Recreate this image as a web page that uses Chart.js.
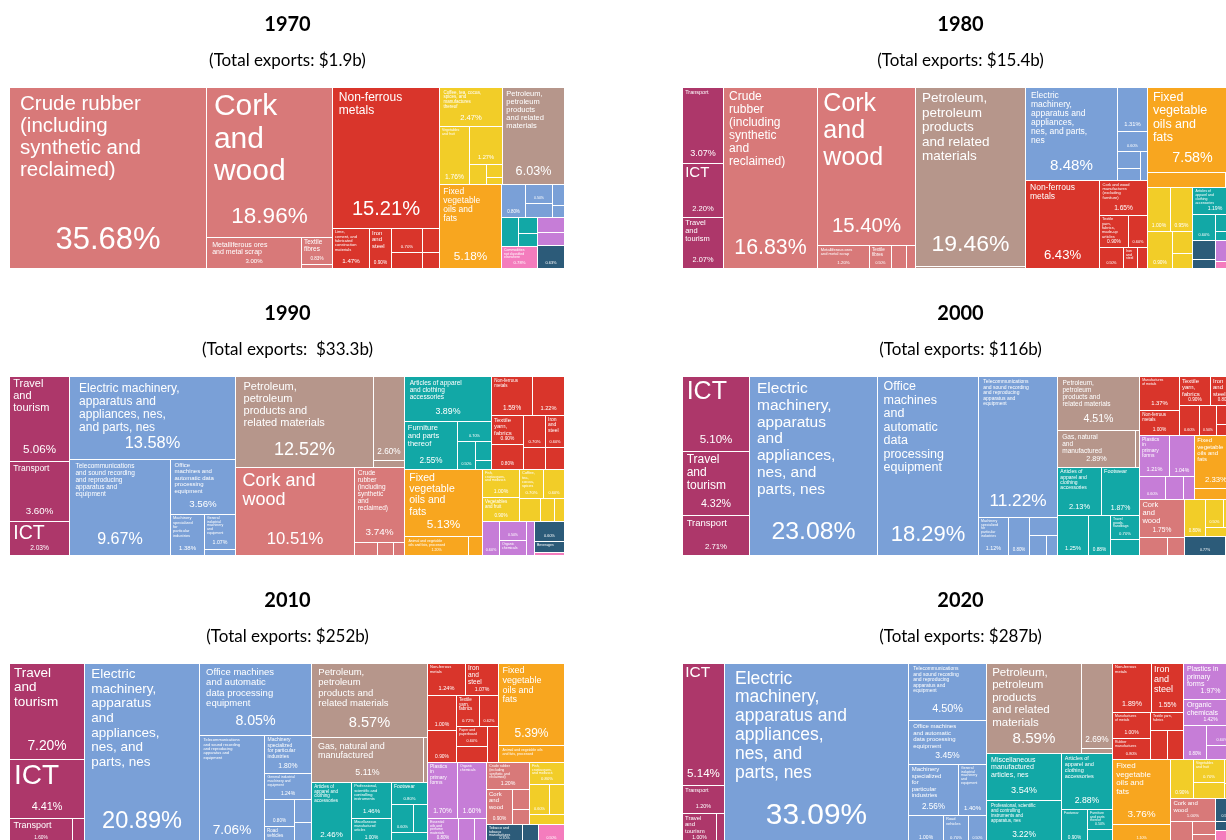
<!DOCTYPE html>
<html>
<head>
<meta charset="utf-8">
<script src="https://cdn.jsdelivr.net/npm/chart.js@4.4.1/dist/chart.umd.min.js"></script>
<style>
  html, body { margin: 0; padding: 0; background: #fff; width: 1226px; height: 840px; overflow: hidden; position: relative; }
  canvas { position: absolute; }
</style>
</head>
<body>
<canvas id="c1970" width="555" height="269" style="left:10px;top:0px"></canvas>
<canvas id="c1980" width="555" height="269" style="left:683px;top:0px"></canvas>
<canvas id="c1990" width="555" height="267" style="left:10px;top:289px"></canvas>
<canvas id="c2000" width="555" height="267" style="left:683px;top:289px"></canvas>
<canvas id="c2010" width="555" height="268" style="left:10px;top:576px"></canvas>
<canvas id="c2020" width="555" height="268" style="left:683px;top:576px"></canvas>
<script>
// ---- panel titles
const years = ['1970', '1980', '1990', '2000', '2010', '2020'];
const totals = ['(Total exports: $1.9b)', '(Total exports: $15.4b)', '(Total exports:  $33.3b)',
                '(Total exports: $116b)', '(Total exports: $252b)', '(Total exports: $287b)'];

// ---- 1970
const labels1970 = [
  'Crude rubber (including synthetic and reclaimed)', 'Cork and wood', 'Metalliferous ores and metal scrap', 'Textile fibres', 'Crude animal and vegetable materials',
  'Non-ferrous metals', 'Lime, cement, and fabricated construction materials', 'Iron and steel', 'Manufactures of metals', 'Rubber manufactures', 'Textile yarn and fabrics', 'Paper and paperboard',
  'Coffee, tea, cocoa, spices, and manufactures thereof', 'Vegetables and fruit', 'Fish, crustaceans, and molluscs', 'Cereals and cereal preparations', 'Sugar, sugar preparations and honey', 'Feeding stuff for animals',
  'Petroleum, petroleum products and related materials',
  'Fixed vegetable oils and fats',
  'Electric machinery, apparatus and appliances, nes, and parts, nes', 'Power generating machinery and equipment', 'General industrial machinery', 'Office machines', 'Road vehicles',
  'Articles of apparel and clothing accessories', 'Furniture and parts thereof', 'Miscellaneous manufactured articles',
  'Commodities not classified elsewhere',
  'Essential oils and perfume materials', 'Medicinal and pharmaceutical products',
  'Tobacco and tobacco manufactures'
];
const values1970 = [35.68, 18.96, 3.0, 0.83, 0.12, 15.21, 1.47, 0.9, 0.7, 0.5, 0.4, 0.28, 2.47, 1.76, 1.27, 0.35, 0.2, 0.12,
  6.03, 5.18, 0.8, 0.5, 0.4, 0.25, 0.15, 0.5, 0.3, 0.25, 0.78, 0.4, 0.37, 0.63];
const sectors1970 = ['crude', 'crude', 'crude', 'crude', 'crude',
  'metals', 'metals', 'metals', 'metals', 'metals', 'metals', 'metals',
  'food', 'food', 'food', 'food', 'food', 'food',
  'fuels', 'oils',
  'machinery', 'machinery', 'machinery', 'machinery', 'machinery',
  'misc', 'misc', 'misc', 'other', 'chemicals', 'chemicals', 'beverages'];

// ---- 1980
const labels1980 = [
  'Transport', 'ICT', 'Travel and tourism',
  'Crude rubber (including synthetic and reclaimed)', 'Cork and wood', 'Metalliferous ores and metal scrap', 'Textile fibres', 'Crude fertilizers and crude minerals', 'Crude animal and vegetable materials',
  'Petroleum, petroleum products and related materials', 'Gas, natural and manufactured',
  'Electric machinery, apparatus and appliances, nes, and parts, nes', 'Telecommunications and sound recording apparatus', 'Office machines and automatic data processing equipment', 'General industrial machinery and equipment', 'Power generating machinery and equipment', 'Road vehicles',
  'Non-ferrous metals', 'Cork and wood manufactures (excluding furniture)', 'Textile yarn, fabrics, made-up articles', 'Rubber manufactures', 'Manufactures of metals', 'Iron and steel', 'Paper and paperboard',
  'Fixed vegetable oils and fats', 'Animal and vegetable oils and fats, processed, and waxes', 'Animal oils and fats',
  'Coffee, tea, cocoa, spices, and manufactures thereof', 'Vegetables and fruit', 'Fish, crustaceans, and molluscs', 'Cereals and cereal preparations', 'Feeding stuff for animals',
  'Articles of apparel and clothing accessories', 'Miscellaneous manufactured articles', 'Furniture and parts thereof', 'Footwear',
  'Tobacco and tobacco manufactures', 'Beverages',
  'Essential oils and perfume materials', 'Plastics in primary forms',
  'Commodities not classified elsewhere'
];
const values1980 = [3.07, 2.20, 2.07, 16.83, 15.40, 1.2, 0.5, 0.35, 0.22, 19.46, 0.2,
  8.48, 1.31, 0.6, 0.4, 0.3, 0.2, 6.43, 1.65, 0.9, 0.6, 0.5, 0.3, 0.2, 7.58, 1.2, 0.18,
  1.0, 0.95, 0.9, 0.45, 0.3, 1.19, 0.6, 0.35, 0.2, 0.45, 0.2, 0.25, 0.2, 0.15];
const sectors1980 = ['services', 'services', 'services',
  'crude', 'crude', 'crude', 'crude', 'crude', 'crude', 'fuels', 'fuels',
  'machinery', 'machinery', 'machinery', 'machinery', 'machinery', 'machinery',
  'metals', 'metals', 'metals', 'metals', 'metals', 'metals', 'metals', 'oils', 'oils', 'oils',
  'food', 'food', 'food', 'food', 'food', 'misc', 'misc', 'misc', 'misc',
  'beverages', 'beverages', 'chemicals', 'chemicals', 'other'];

// ---- 1990
const labels1990 = [
  'Travel and tourism', 'Transport', 'ICT',
  'Electric machinery, apparatus and appliances, nes, and parts, nes', 'Telecommunications and sound recording and reproducing apparatus and equipment', 'Office machines and automatic data processing equipment', 'Machinery specialized for particular industries', 'General industrial machinery and equipment', 'Road vehicles',
  'Petroleum, petroleum products and related materials', 'Gas, natural and manufactured', 'Coal, coke and briquettes',
  'Cork and wood', 'Crude rubber (including synthetic and reclaimed)', 'Metalliferous ores and metal scrap', 'Textile fibres', 'Crude fertilizers and crude minerals',
  'Articles of apparel and clothing accessories', 'Furniture and parts thereof', 'Miscellaneous manufactured articles', 'Travel goods, handbags', 'Footwear', 'Professional and scientific instruments',
  'Non-ferrous metals', 'Cork and wood manufactures', 'Textile yarn, fabrics', 'Manufactures of metals', 'Rubber manufactures', 'Iron and steel', 'Paper and paperboard', 'Non-metallic mineral manufactures',
  'Fixed vegetable oils and fats', 'Animal and vegetable oils and fats, processed', 'Animal oils and fats',
  'Fish, crustaceans, and molluscs', 'Vegetables and fruit', 'Coffee, tea, cocoa, spices', 'Cereals and cereal preparations', 'Sugar, sugar preparations and honey', 'Feeding stuff for animals', 'Miscellaneous edible products',
  'Plastics in primary forms', 'Essential oils and perfume materials', 'Organic chemicals', 'Chemical materials and products',
  'Tobacco and tobacco manufactures', 'Beverages',
  'Commodities not classified elsewhere'
];
const values1990 = [5.06, 3.60, 2.03, 13.58, 9.67, 3.56, 1.38, 1.07, 0.2, 12.52, 2.60, 0.2,
  10.51, 3.74, 0.3, 0.2, 0.15, 3.89, 2.55, 0.7, 0.5, 0.3, 0.15,
  1.59, 1.22, 0.9, 0.8, 0.7, 0.6, 0.5, 0.43, 5.13, 1.2, 0.25,
  1.0, 0.9, 0.7, 0.6, 0.5, 0.3, 0.24, 0.6, 0.5, 0.4, 0.27, 0.6, 0.3, 0.1];
const sectors1990 = ['services', 'services', 'services',
  'machinery', 'machinery', 'machinery', 'machinery', 'machinery', 'machinery', 'fuels', 'fuels', 'fuels',
  'crude', 'crude', 'crude', 'crude', 'crude', 'misc', 'misc', 'misc', 'misc', 'misc', 'misc',
  'metals', 'metals', 'metals', 'metals', 'metals', 'metals', 'metals', 'metals', 'oils', 'oils', 'oils',
  'food', 'food', 'food', 'food', 'food', 'food', 'food', 'chemicals', 'chemicals', 'chemicals', 'chemicals',
  'beverages', 'beverages', 'other'];

// ---- 2000
const labels2000 = [
  'ICT', 'Travel and tourism', 'Transport',
  'Electric machinery, apparatus and appliances, nes, and parts, nes', 'Office machines and automatic data processing equipment', 'Telecommunications and sound recording and reproducing apparatus and equipment', 'Machinery specialized for particular industries', 'General industrial machinery and equipment', 'Power generating machinery and equipment', 'Road vehicles', 'Metalworking machinery',
  'Petroleum, petroleum products and related materials', 'Gas, natural and manufactured', 'Coal, coke and briquettes',
  'Articles of apparel and clothing accessories', 'Footwear', 'Miscellaneous manufactured articles', 'Furniture and parts thereof', 'Travel goods, handbags', 'Professional and scientific instruments',
  'Manufactures of metals', 'Non-ferrous metals', 'Textile yarn, fabrics', 'Iron and steel', 'Rubber manufactures', 'Paper and paperboard', 'Cork and wood manufactures', 'Non-metallic mineral manufactures',
  'Plastics in primary forms', 'Organic chemicals', 'Essential oils and perfume materials', 'Chemical materials and products', 'Plastics in non-primary forms',
  'Fixed vegetable oils and fats', 'Animal and vegetable oils and fats, processed',
  'Cork and wood', 'Crude rubber (including synthetic and reclaimed)', 'Metalliferous ores and metal scrap',
  'Fish, crustaceans, and molluscs', 'Vegetables and fruit', 'Coffee, tea, cocoa, spices', 'Cereals and cereal preparations',
  'Tobacco and tobacco manufactures', 'Beverages'
];
const values2000 = [5.10, 4.32, 2.71, 23.08, 18.29, 11.22, 1.12, 0.8, 0.5, 0.35, 0.23, 4.51, 2.89, 0.17,
  2.13, 1.87, 1.25, 0.88, 0.7, 0.47, 1.37, 1.0, 0.9, 0.8, 0.6, 0.5, 0.4, 0.23,
  1.21, 1.04, 0.6, 0.4, 0.25, 2.33, 0.45, 1.75, 0.5, 0.3, 0.8, 0.5, 0.4, 0.3, 0.77, 0.23];
const sectors2000 = ['services', 'services', 'services',
  'machinery', 'machinery', 'machinery', 'machinery', 'machinery', 'machinery', 'machinery', 'machinery',
  'fuels', 'fuels', 'fuels', 'misc', 'misc', 'misc', 'misc', 'misc', 'misc',
  'metals', 'metals', 'metals', 'metals', 'metals', 'metals', 'metals', 'metals',
  'chemicals', 'chemicals', 'chemicals', 'chemicals', 'chemicals', 'oils', 'oils', 'crude', 'crude', 'crude',
  'food', 'food', 'food', 'food', 'beverages', 'beverages'];

// ---- 2010
const labels2010 = [
  'Travel and tourism', 'ICT', 'Transport', 'Insurance and finance',
  'Electric machinery, apparatus and appliances, nes, and parts, nes', 'Office machines and automatic data processing equipment', 'Telecommunications and sound recording and reproducing apparatus and equipment', 'Machinery specialized for particular industries', 'General industrial machinery and equipment', 'Power generating machinery and equipment', 'Road vehicles', 'Metalworking machinery', 'Other transport equipment',
  'Petroleum, petroleum products and related materials', 'Gas, natural and manufactured', 'Coal, coke and briquettes',
  'Articles of apparel and clothing accessories', 'Professional, scientific and controlling instruments', 'Miscellaneous manufactured articles', 'Footwear', 'Furniture and parts thereof', 'Travel goods, handbags', 'Photographic apparatus',
  'Non-ferrous metals', 'Iron and steel', 'Manufactures of metals', 'Rubber manufactures', 'Textile yarn, fabrics', 'Non-metallic mineral manufactures', 'Paper and paperboard', 'Cork and wood manufactures', 'Leather manufactures',
  'Fixed vegetable oils and fats', 'Animal and vegetable oils and fats, processed',
  'Plastics in primary forms', 'Organic chemicals', 'Essential oils and perfume materials', 'Chemical materials and products', 'Plastics in non-primary forms',
  'Crude rubber (including synthetic and reclaimed)', 'Cork and wood', 'Metalliferous ores and metal scrap', 'Textile fibres',
  'Fish, crustaceans, and molluscs', 'Vegetables and fruit', 'Coffee, tea, cocoa, spices', 'Cereals and cereal preparations',
  'Tobacco and tobacco manufactures', 'Beverages',
  'Commodities not classified elsewhere'
];
const values2010 = [7.20, 4.41, 1.6, 0.3, 20.89, 8.05, 7.06, 1.80, 1.24, 0.8, 0.5, 0.4, 0.36, 8.57, 5.11, 0.2,
  2.46, 1.46, 1.0, 0.8, 0.6, 0.4, 0.38, 1.24, 1.07, 1.0, 0.9, 0.72, 0.62, 0.6, 0.5, 0.41,
  5.39, 1.1, 1.70, 1.60, 0.8, 0.4, 0.3, 1.2, 0.9, 0.35, 0.25, 0.8, 0.6, 0.45, 0.35, 0.7, 0.3, 0.5];
const sectors2010 = ['services', 'services', 'services', 'services',
  'machinery', 'machinery', 'machinery', 'machinery', 'machinery', 'machinery', 'machinery', 'machinery', 'machinery',
  'fuels', 'fuels', 'fuels', 'misc', 'misc', 'misc', 'misc', 'misc', 'misc', 'misc',
  'metals', 'metals', 'metals', 'metals', 'metals', 'metals', 'metals', 'metals', 'metals',
  'oils', 'oils', 'chemicals', 'chemicals', 'chemicals', 'chemicals', 'chemicals',
  'crude', 'crude', 'crude', 'crude', 'food', 'food', 'food', 'food', 'beverages', 'beverages', 'other'];

// ---- 2020
const labels2020 = [
  'ICT', 'Transport', 'Travel and tourism', 'Insurance and finance',
  'Electric machinery, apparatus and appliances, nes, and parts, nes', 'Telecommunications and sound recording and reproducing apparatus and equipment', 'Office machines and automatic data processing equipment', 'Machinery specialized for particular industries', 'General industrial machinery and equipment', 'Power generating machinery and equipment', 'Road vehicles', 'Metalworking machinery',
  'Petroleum, petroleum products and related materials', 'Gas, natural and manufactured', 'Coal, coke and briquettes',
  'Miscellaneous manufactured articles, nes', 'Professional, scientific and controlling instruments and apparatus, nes', 'Articles of apparel and clothing accessories', 'Footwear', 'Furniture and parts thereof', 'Travel goods, handbags',
  'Non-ferrous metals', 'Iron and steel', 'Manufactures of metals', 'Rubber manufactures', 'Textile yarn, fabrics', 'Paper and paperboard', 'Non-metallic mineral manufactures',
  'Plastics in primary forms', 'Organic chemicals', 'Essential oils and perfume materials', 'Chemical materials and products', 'Plastics in non-primary forms',
  'Fixed vegetable oils and fats', 'Animal and vegetable oils and fats, processed',
  'Fish, crustaceans, and molluscs', 'Vegetables and fruit', 'Coffee, tea, cocoa, spices', 'Cereals and cereal preparations', 'Feeding stuff for animals',
  'Cork and wood', 'Crude rubber (including synthetic and reclaimed)', 'Metalliferous ores and metal scrap', 'Textile fibres',
  'Tobacco and tobacco manufactures', 'Beverages',
  'Commodities not classified elsewhere'
];
const values2020 = [5.14, 1.2, 1.0, 0.25, 33.09, 4.50, 3.45, 2.56, 1.4, 1.0, 0.7, 0.5, 8.59, 2.69, 0.15,
  3.54, 3.22, 2.88, 0.9, 0.5, 0.36, 1.89, 1.55, 1.0, 0.8, 0.6, 0.5, 0.46,
  1.97, 1.42, 0.8, 0.6, 0.45, 3.76, 1.1, 0.9, 0.7, 0.5, 0.3, 0.2, 1.0, 0.5, 0.3, 0.2, 0.5, 0.2, 0.3];
const sectors2020 = ['services', 'services', 'services', 'services',
  'machinery', 'machinery', 'machinery', 'machinery', 'machinery', 'machinery', 'machinery', 'machinery',
  'fuels', 'fuels', 'fuels', 'misc', 'misc', 'misc', 'misc', 'misc', 'misc',
  'metals', 'metals', 'metals', 'metals', 'metals', 'metals', 'metals',
  'chemicals', 'chemicals', 'chemicals', 'chemicals', 'chemicals', 'oils', 'oils',
  'food', 'food', 'food', 'food', 'food', 'crude', 'crude', 'crude', 'crude', 'beverages', 'beverages', 'other'];

// sector colours
const sectorColors = {
  services: '#ad376a', crude: '#d87979', metals: '#d9352b', food: '#f2cd28', oils: '#f8a61f',
  fuels: '#b6968b', machinery: '#7aa0d7', misc: '#12a8a6', chemicals: '#c67dd7', beverages: '#2c5b79', other: '#f47cbd'
};

const CELL_FONT = '"Liberation Sans", Arial, sans-serif';

//group the items by sector, keeping the order they are listed in
function buildTree(labels, values, sectors) {
  const groups = [];
  labels.forEach((label, i) => {
    let g = groups.find(g => g.sector === sectors[i]);
    if (!g) {
      g = { sector: sectors[i], value: 0, children: [] };
      groups.push(g);
    }
    g.children.push({ label: label, value: values[i], sector: sectors[i] });
    g.value += values[i];
  });
  return groups;
}

//squarified treemap (rows laid along the shorter side)
function squarify(nodes, x0, y0, x1, y1, out) {
  let value = nodes.reduce((s, d) => s + d.value, 0);
  let i0 = 0, i1 = 0;
  const n = nodes.length;
  while (i0 < n) {
    const dx = x1 - x0, dy = y1 - y0;
    let sumValue = nodes[i1++].value;
    let minValue = sumValue, maxValue = sumValue;
    const alpha = Math.max(dy / dx, dx / dy) / value;
    let beta = sumValue * sumValue * alpha;
    let minRatio = Math.max(maxValue / beta, beta / minValue);
    for (; i1 < n; ++i1) {
      const nv = nodes[i1].value;
      sumValue += nv;
      if (nv < minValue) minValue = nv;
      if (nv > maxValue) maxValue = nv;
      beta = sumValue * sumValue * alpha;
      const newRatio = Math.max(maxValue / beta, beta / minValue);
      if (newRatio > minRatio) { sumValue -= nv; break; }
      minRatio = newRatio;
    }
    const row = nodes.slice(i0, i1);
    if (dx < dy) {
      const yb = i1 >= n ? y1 : y0 + dy * sumValue / value;
      let x = x0;
      row.forEach(d => {
        const w = dx * d.value / sumValue;
        out.push(Object.assign({}, d, { x0: x, x1: x + w, y0: y0, y1: yb }));
        x += w;
      });
      y0 = yb;
    } else {
      const xb = i1 >= n ? x1 : x0 + dx * sumValue / value;
      let y = y0;
      row.forEach(d => {
        const h = dy * d.value / sumValue;
        out.push(Object.assign({}, d, { x0: x0, x1: xb, y0: y, y1: y + h }));
        y += h;
      });
      x0 = xb;
    }
    value -= sumValue;
    i0 = i1;
  }
  return out;
}

function wrapWords(ctx, text, maxW) {
  const words = text.split(' ');
  const lines = [];
  let cur = '';
  for (const w of words) {
    if (ctx.measureText(w).width > maxW) return null;
    const test = cur ? cur + ' ' + w : w;
    if (ctx.measureText(test).width <= maxW) cur = test;
    else { lines.push(cur); cur = w; }
  }
  if (cur) lines.push(cur);
  return lines;
}

function drawCellText(ctx, r) {
  const w = r.x1 - r.x0, h = r.y1 - r.y0;
  if (w < 6 || h < 6) return;
  const pad = Math.max(2, Math.min(10, w * 0.055));
  ctx.fillStyle = '#fff';

  // percentage, centred near the bottom
  const txt = r.value.toFixed(2) + '%';
  let pf = Math.min(0.165 * Math.sqrt(w * h), h * 0.2, 32);
  ctx.font = pf + 'px ' + CELL_FONT;
  const tw = ctx.measureText(txt).width;
  if (tw > 0.8 * w) pf *= 0.8 * w / tw;
  if (pf >= 3.5) {
    ctx.font = pf + 'px ' + CELL_FONT;
    ctx.textAlign = 'center';
    ctx.textBaseline = 'middle';
    ctx.fillText(txt, (r.x0 + r.x1) / 2, r.y1 - pf * 0.85 - 1.5);
  }

  // name, wrapped in the top left corner
  const availW = 0.62 * w;
  const availH = h - pf * 1.5 - pad * 0.6;
  ctx.textAlign = 'left';
  ctx.textBaseline = 'top';
  for (let fs = 30; fs >= 3.5; fs -= 0.5) {
    ctx.font = fs + 'px ' + CELL_FONT;
    const lines = wrapWords(ctx, r.label, availW);
    if (!lines) continue;
    if (lines.length * fs * 1.08 > availH) continue;
    lines.forEach((l, i) => ctx.fillText(l, r.x0 + pad, r.y0 + pad * 0.6 + i * fs * 1.08));
    break;
  }
}

function treemapPlugin(labels, values, sectors) {
  return {
    id: 'treemap',
    afterDatasetsDraw(chart) {
      const ctx = chart.ctx;
      const xs = chart.scales.x, ys = chart.scales.y;
      const a = chart.chartArea;
      const W = a.right - a.left, H = a.bottom - a.top;
      const groups = buildTree(labels, values, sectors);
      const groupRects = squarify(groups, 0, 0, W, H, []);
      const cells = [];
      groupRects.forEach(g => squarify(g.children, g.x0, g.y0, g.x1, g.y1, cells));

      ctx.save();
      cells.forEach(c => {
        const px0 = Math.round(xs.getPixelForValue(c.x0 / W * 100));
        const px1 = Math.round(xs.getPixelForValue(c.x1 / W * 100));
        const py0 = Math.round(ys.getPixelForValue(c.y0 / H * 100));
        const py1 = Math.round(ys.getPixelForValue(c.y1 / H * 100));
        ctx.fillStyle = sectorColors[c.sector];
        ctx.fillRect(px0, py0, px1 - px0 - 1, py1 - py0 - 1);
        drawCellText(ctx, { x0: px0, x1: px1 - 1, y0: py0, y1: py1 - 1, label: c.label, value: c.value });
      });
      ctx.restore();
    }
  };
}

function makeChart(id, i, labels, values, sectors) {
  return new Chart(document.getElementById(id), {
    type: 'scatter',
    data: { datasets: [{ label: years[i], data: [] }] },
    options: {
      responsive: false,
      animation: false,
      events: [],
      layout: { padding: 0 },
      scales: {
        x: { type: 'linear', min: 0, max: 100, display: false },
        y: { type: 'linear', min: 0, max: 100, reverse: true, display: false }
      },
      plugins: {
        legend: { display: false },
        tooltip: { enabled: false },
        title: {
          display: true,
          text: years[i],
          color: '#000',
          font: { family: 'Lato', size: 20, weight: 'bold', lineHeight: 1.2 },
          padding: { top: 13, bottom: 13 }
        },
        subtitle: {
          display: true,
          text: totals[i],
          color: '#000',
          font: { family: 'Lato', size: 17, weight: 'normal', lineHeight: 1.2 },
          padding: { top: 0, bottom: 17.6 }
        }
      }
    },
    plugins: [treemapPlugin(labels, values, sectors)]
  });
}

makeChart('c1970', 0, labels1970, values1970, sectors1970);
makeChart('c1980', 1, labels1980, values1980, sectors1980);
makeChart('c1990', 2, labels1990, values1990, sectors1990);
makeChart('c2000', 3, labels2000, values2000, sectors2000);
makeChart('c2010', 4, labels2010, values2010, sectors2010);
makeChart('c2020', 5, labels2020, values2020, sectors2020);
</script>
</body>
</html>
